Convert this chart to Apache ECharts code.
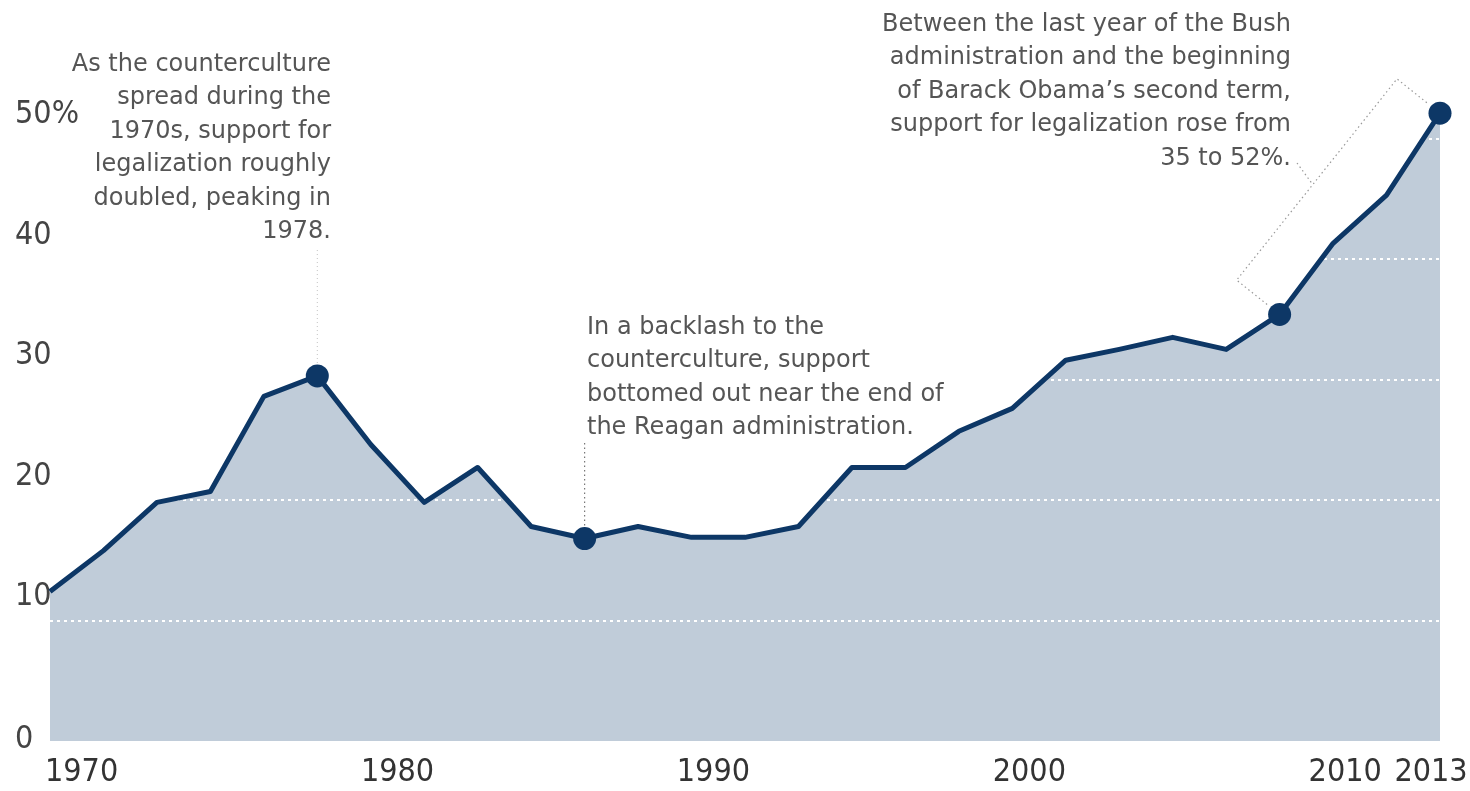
<!DOCTYPE html>
<html>
<head>
<meta charset="utf-8">
<script src="https://cdn.jsdelivr.net/npm/echarts@6/dist/echarts.min.js"></script>
<style>
html,body{margin:0;padding:0;background:#fff;}
#c{width:1470px;height:791px;}
</style>
</head>
<body>
<div id="c"></div>
<script>
// survey years (equally spaced in the graphic)
const years = ['1969','1972','1973','1975','1976','1978','1980','1983','1984','1986','1987','1988','1989','1990','1991','1993','1994','1996','1998','2000','2002','2004','2006','2008','2010','2011','2013'];
// % supporting legalization
const support = [12.4,15.8,19.8,20.7,28.6,30.3,24.6,19.8,22.7,17.8,16.8,17.8,16.9,16.9,17.8,22.7,22.7,25.7,27.6,31.6,32.5,33.5,32.5,35.4,41.3,45.3,52.1];
// highlighted points (indices)
const highlighted = [5,10,23,26];
// axis tick labels
const xTickYears = [1970,1980,1990,2000,2010,2013];
const yTicks = [0,10,20,30,40,50];

const notes = {
  counter: ['As the counterculture','spread during the','1970s, support for','legalization roughly','doubled, peaking in','1978.'],
  reagan: ['In a backlash to the','counterculture, support','bottomed out near the end of','the Reagan administration.'],
  obama: ['Between the last year of the Bush','administration and the beginning','of Barack Obama\u2019s second term,','support for legalization rose from','35 to 52%.']
};

const LINE = '#0d3766';
const AREA = '#c0ccd9';
const TEXT = '#555';
const noteFont = '"DejaVu Sans", Lato, sans-serif';
const NARROW = '"Liberation Sans Narrow", "DejaVu Sans Condensed", "Roboto Condensed", Roboto, sans-serif';
const AX = 32;

const chart = echarts.init(document.getElementById('c'));
chart.setOption({
  animation: false,
  grid: {left: 50, right: 30, top: 18, bottom: 50, containLabel: false, outerBoundsMode: 'none'},
  xAxis: [
    {type: 'category', data: years, boundaryGap: false, show: true,
     axisLine: {show: false}, axisTick: {show: false}, axisLabel: {show: false}, splitLine: {show: false}},
    {type: 'value', min: 1969, max: 2013, position: 'bottom',
     axisLine: {show: false}, axisTick: {show: false}, splitLine: {show: false},
     axisLabel: {customValues: xTickYears, margin: 16, color: '#333',
       fontFamily: NARROW, fontSize: AX, hideOverlap: false,
       formatter: v => v === 2013 ? '{r|2013}' : String(v),
       rich: {r: {fontFamily: NARROW, fontSize: AX, color: '#333', padding: [0, 18, 0, 0]}}}}
  ],
  yAxis: {
    type: 'value', min: 0, max: 60, interval: 10, z: 2,
    axisLine: {show: false}, axisTick: {show: false},
    splitLine: {show: true, lineStyle: {
      color: ['rgba(255,255,255,0)', '#ffffff', '#ffffff', '#ffffff', '#ffffff', '#ffffff', 'rgba(255,255,255,0)'],
      width: 2, type: [3, 4]}},
    axisLabel: {
      align: 'left', margin: 35, color: '#444',
      fontFamily: NARROW, fontSize: AX,
      formatter: v => {
        if (!yTicks.includes(v)) return '';
        if (v === 0) return '{z|0}';
        return '{n|' + (v === 50 ? '50%' : v) + '}';
      },
      rich: {
        n: {fontFamily: NARROW, fontSize: AX, color: '#444', padding: [0, 0, 47, 0]},
        z: {fontFamily: NARROW, fontSize: AX, color: '#444', padding: [0, 0, 3, 0]}
      }
    }
  },
  series: [
    {type: 'line', data: support, xAxisIndex: 0, z: 1, symbol: 'none',
     lineStyle: {width: 0}, areaStyle: {color: AREA, opacity: 1}, silent: true},
    {type: 'line', data: support, xAxisIndex: 0, z: 3,
     symbol: (val, params) => highlighted.includes(params.dataIndex) ? 'circle' : 'none',
     symbolSize: 23, showAllSymbol: true,
     itemStyle: {color: LINE}, lineStyle: {color: LINE, width: 5, join: 'round'}}
  ]
});

function px(i) { return chart.convertToPixel({seriesIndex: 1}, [i, support[i]]); }

const p5 = px(5), p10 = px(10), p23 = px(23), p26 = px(26);
// bracket parallel to 2008 -> 2013 segment
const dx = p26[0] - p23[0], dy = p26[1] - p23[1];
const len = Math.hypot(dx, dy);
let nx = dy / len, ny = -dx / len;
if (ny > 0) { nx = -nx; ny = -ny; }
const far = 55, near = 16;
const A = [p23[0] + nx * far, p23[1] + ny * far];
const B = [p26[0] + nx * far, p26[1] + ny * far];
const a = [p23[0] + nx * near, p23[1] + ny * near];
const b = [p26[0] + nx * near, p26[1] + ny * near];
const t = 0.475;
const M = [A[0] + (B[0] - A[0]) * t, A[1] + (B[1] - A[1]) * t];

function noteText(lines, x, y, align) {
  return {type: 'text', x: x, y: y, z: 10, silent: true,
    style: {text: lines.join('\n'), font: '24px ' + noteFont, fill: TEXT,
      align: align, verticalAlign: 'top', lineHeight: 33.4}};
}

chart.setOption({
  graphic: [
    noteText(notes.counter, 331, 48, 'right'),
    noteText(notes.reagan, 587, 311, 'left'),
    noteText(notes.obama, 1291, 8, 'right'),
    {type: 'line', z: 10, silent: true, shape: {x1: p5[0], y1: 250, x2: p5[0], y2: p5[1] - 12},
     style: {stroke: '#c4c4c4', lineWidth: 1, lineDash: [1, 3]}},
    {type: 'line', z: 10, silent: true, shape: {x1: p10[0], y1: 443, x2: p10[0], y2: p10[1] - 12},
     style: {stroke: '#777', lineWidth: 1.2, lineDash: [1.5, 3]}},
    {type: 'polyline', z: 10, silent: true, shape: {points: [a, A, B, b]},
     style: {stroke: '#999', lineWidth: 1.2, lineDash: [1.5, 3], fill: null}},
    {type: 'line', z: 10, silent: true, shape: {x1: 1297, y1: 163, x2: M[0], y2: M[1]},
     style: {stroke: '#999', lineWidth: 1.2, lineDash: [1.5, 3]}}
  ]
});
</script>
</body>
</html>
